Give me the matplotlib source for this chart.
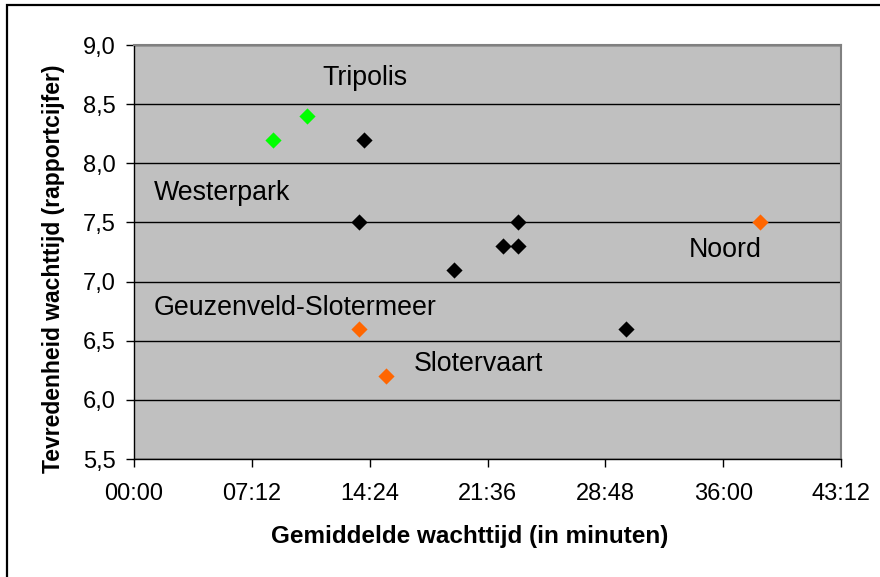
import matplotlib.pyplot as plt
from matplotlib.patches import Rectangle
from matplotlib.ticker import FuncFormatter, MultipleLocator


# average waiting time in minutes, satisfaction score
wait_green = [8.49, 10.57]
score_green = [8.2, 8.4]

wait_black = [14.03, 13.77, 23.45, 22.57, 23.45, 19.55, 30.07]
score_black = [8.2, 7.5, 7.5, 7.3, 7.3, 7.1, 6.6]

wait_orange = [38.24, 13.77, 15.42]
score_orange = [7.5, 6.6, 6.2]

district_names = ["Tripolis", "Westerpark", "Geuzenveld-Slotermeer", "Noord", "Slotervaart"]
name_spots = [(11.5, 8.72), (1.22, 7.75), (1.22, 6.78), (33.9, 7.27), (17.1, 6.30)]


def mm_ss(value, pos):
    seconds = int(round(value * 60))
    return f"{seconds // 60:02d}:{seconds % 60:02d}"


def comma_decimal(value, pos):
    return f"{value:.1f}".replace(".", ",")


def main():
    plt.rcParams["font.family"] = ["Liberation Sans", "DejaVu Sans"]

    fig = plt.figure(figsize=(8.8, 5.77), dpi=100)
    ax = fig.add_axes([0.1523, 0.2045, 0.8034, 0.7175])
    ax.set_facecolor("#C0C0C0")

    # outer chart frame, cut off on the right and bottom
    fig.patches.append(Rectangle((0.008, -0.05), 1.1, 1.0413, transform=fig.transFigure,
                                 fill=False, edgecolor="black", linewidth=1.6))

    ax.set_xlim(0, 43.2)
    ax.set_ylim(5.5, 9.0)
    ax.xaxis.set_major_locator(MultipleLocator(7.2))
    ax.yaxis.set_major_locator(MultipleLocator(0.5))
    ax.xaxis.set_major_formatter(FuncFormatter(mm_ss))
    ax.yaxis.set_major_formatter(FuncFormatter(comma_decimal))

    ax.grid(axis="y", color="black", linewidth=1)
    ax.set_axisbelow(True)

    for side in ["top", "right"]:
        ax.spines[side].set_color("#808080")
        ax.spines[side].set_linewidth(1.5)
    for side in ["left", "bottom"]:
        ax.spines[side].set_color("black")
        ax.spines[side].set_linewidth(1)

    ax.tick_params(direction="out", length=6, width=1, labelsize=17)
    ax.tick_params(axis="x", pad=11)
    ax.tick_params(axis="y", pad=7)

    marker_style = dict(marker="D", s=68, linewidths=0, zorder=3, clip_on=False)
    ax.scatter(wait_green, score_green, color="#00FF00", **marker_style)
    ax.scatter(wait_black, score_black, color="black", **marker_style)
    ax.scatter(wait_orange, score_orange, color="#FF6600", **marker_style)

    for name, (x, y) in zip(district_names, name_spots):
        ax.text(x, y, name, fontsize=19.3, ha="left", va="center")

    ax.set_xlabel("Gemiddelde wachttijd (in minuten)", fontsize=17.5, fontweight="bold")
    ax.set_ylabel("Tevredenheid wachttijd (rapportcijfer)", fontsize=16.5, fontweight="bold")
    ax.xaxis.set_label_coords(0.475, -0.188)
    ax.yaxis.set_label_coords(-0.1146, 0.459)
    ax.xaxis.label.set_va("center")
    ax.yaxis.label.set_va("center")

    fig.savefig("out.png", dpi=100)
    plt.close(fig)


if __name__ == "__main__":
    main()
